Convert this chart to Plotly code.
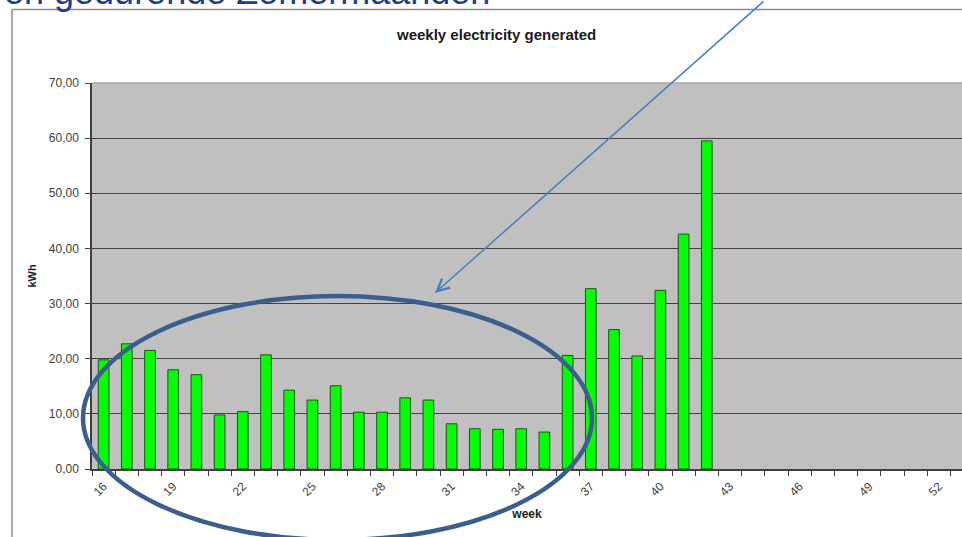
import plotly.graph_objects as go

# ---- data ----
weeks = list(range(16, 43))
kwh = [19.8, 22.7, 21.5, 18.0, 17.1, 9.8, 10.4, 20.7, 14.3, 12.5, 15.1, 10.3, 10.3,
       12.9, 12.5, 8.2, 7.3, 7.2, 7.3, 6.7, 20.6, 32.7, 25.3, 20.5, 32.4, 42.6, 59.5]
x_tick_weeks = list(range(16, 53, 3))
y_ticks = [0, 10, 20, 30, 40, 50, 60, 70]

W, H = 962, 537
L, R, T, B = 92, 962, 83, 469


def px_x(p):
    return (p - L) / (R - L)


def px_y(p):
    return (B - p) / (B - T)


fig = go.Figure()
fig.add_trace(go.Bar(
    x=weeks, y=kwh,
    marker=dict(color="#00FF00", line=dict(color="#1F4F1F", width=1)),
    width=0.46,
))

fig.update_layout(
    width=W, height=H,
    margin=dict(l=L, r=W - R, t=T, b=H - B, pad=0),
    paper_bgcolor="white",
    plot_bgcolor="#C0C0C0",
    separators=",.",
    showlegend=False,
    font=dict(family="Arial, Liberation Sans, sans-serif", color="#404040"),
)

fig.update_xaxes(
    range=[15.5, 53.0],
    tickmode="array", tickvals=x_tick_weeks, ticktext=[str(w) for w in x_tick_weeks],
    tickangle=-45, ticks="", showgrid=False,
    tickfont=dict(size=12, color="#404040"),
    ticklabelstandoff=4,
    showline=True, linecolor="#404040", linewidth=1.5,
    minor=dict(tickvals=[w + 0.5 for w in range(15, 54)], ticks="outside",
               ticklen=5, tickcolor="#404040", tickwidth=1, showgrid=False),
    title=dict(text="<b>week</b>", font=dict(size=12, color="#222222"), standoff=12),
    zeroline=False,
)
fig.update_yaxes(
    range=[0, 70], tickmode="array", tickvals=y_ticks, tickformat=".2f",
    ticks="outside", ticklen=5, tickcolor="#404040",
    tickfont=dict(size=12, color="#404040"),
    ticklabelstandoff=4,
    showgrid=True, gridcolor="#444444", gridwidth=1.4,
    showline=True, linecolor="#404040", linewidth=1.5,
    zeroline=False,
    title=dict(text="<b>kWh</b>", font=dict(size=11, color="#222222"), standoff=10),
)

# top light border of plot area
fig.add_shape(type="line", xref="paper", yref="paper", x0=0, x1=1, y0=1, y1=1,
              line=dict(color="#A8A8A8", width=1.5), layer="above")

# chart frame
fig.add_shape(type="line", xref="paper", yref="paper",
              x0=px_x(12), x1=px_x(12), y0=px_y(540), y1=px_y(9.5),
              line=dict(color="#8C8C8C", width=1.5))
fig.add_shape(type="line", xref="paper", yref="paper",
              x0=px_x(12), x1=px_x(970), y0=px_y(9.5), y1=px_y(9.5),
              line=dict(color="#8C8C8C", width=1.5))

# chart title
fig.add_annotation(text="<b>weekly electricity generated</b>", xref="paper", yref="paper",
                   x=px_x(496), y=px_y(34), showarrow=False,
                   font=dict(size=15, color="#1A1A1A"), xanchor="center", yanchor="middle")

# slide title (cut off at the top, as in the reference)
fig.add_annotation(text="en gedurende Zomermaanden", xref="paper", yref="paper",
                   x=px_x(492), y=px_y(-9), showarrow=False,
                   font=dict(size=36, color="#1F3C88"), xanchor="right", yanchor="middle")

# ellipse highlight
fig.add_shape(type="circle", xref="paper", yref="paper",
              x0=px_x(83), x1=px_x(592), y0=px_y(540), y1=px_y(296),
              line=dict(color="#3B5E8C", width=4.5), layer="above")

# arrow
fig.add_annotation(text="", xref="paper", yref="paper",
                   x=px_x(435), y=px_y(293), ax=330, ay=-300,
                   showarrow=True, arrowhead=5, arrowsize=1.6, arrowwidth=1.5,
                   arrowcolor="#4A7EBB")

fig.write_html("out.html", config={"displayModeBar": False},
               post_script="document.body.style.margin='0';")
